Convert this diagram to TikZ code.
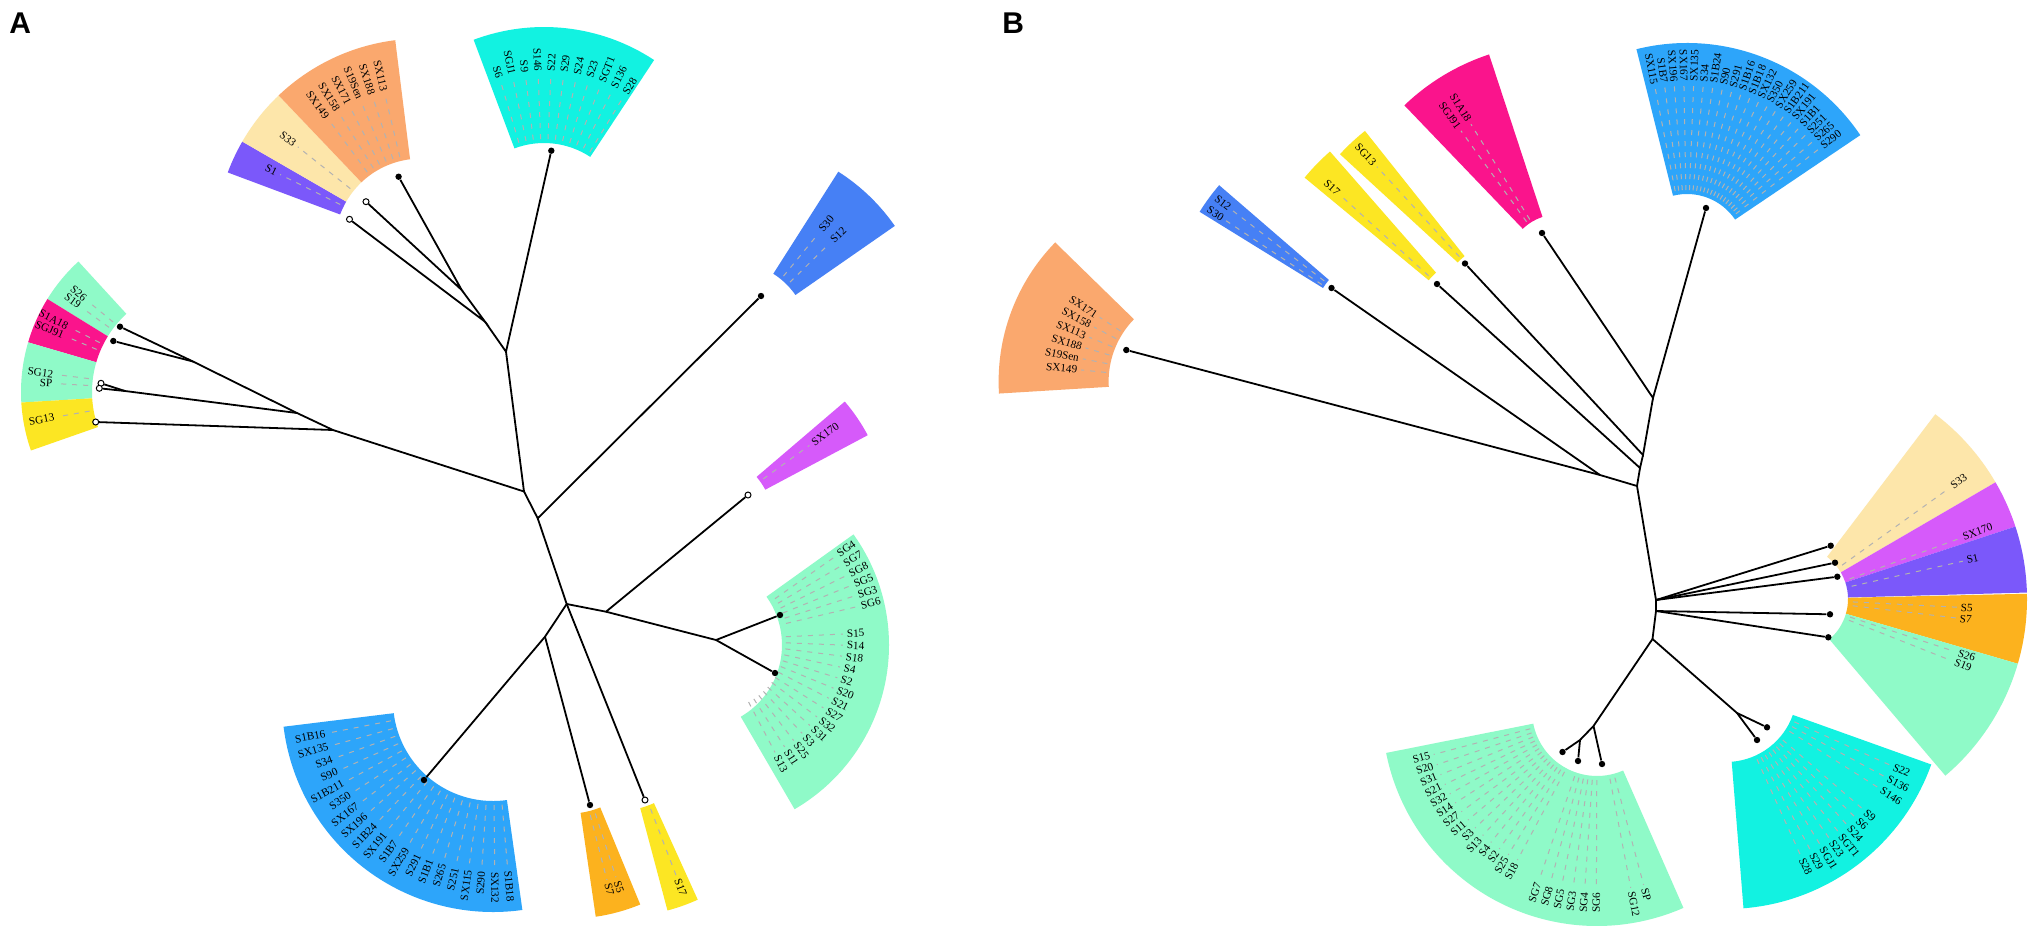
\documentclass[tikz,border=0pt]{standalone}
\usepackage{fontspec}
\setmainfont{Liberation Serif}
\newfontfamily\panelfont{Liberation Sans}
\usetikzlibrary{calc}
\definecolor{cyanW}{RGB}{18,242,225}
\definecolor{mintW}{RGB}{143,250,200}
\definecolor{orangeW}{RGB}{250,168,110}
\definecolor{creamW}{RGB}{253,230,170}
\definecolor{violetW}{RGB}{123,88,250}
\definecolor{magentaW}{RGB}{214,90,250}
\definecolor{blueW}{RGB}{70,128,245}
\definecolor{pinkW}{RGB}{250,20,140}
\definecolor{yellowW}{RGB}{252,230,35}
\definecolor{amberW}{RGB}{252,178,30}
\definecolor{skyW}{RGB}{45,165,250}
\tikzset{
  leaflab/.style={font=\fontsize{5.6}{6.5}\selectfont, inner sep=0.3pt},
  leafdash/.style={draw=black!30, line width=0.5pt, dash pattern=on 2.5pt off 3pt},
  branch/.style={draw=black, line width=0.9pt},
  leafdot/.style={circle, fill=black, inner sep=0pt, minimum size=3.2pt},
  opendot/.style={circle, draw=black, fill=white, line width=0.5pt, inner sep=0pt, minimum size=3pt},
  panel/.style={font=\panelfont\bfseries\fontsize{15}{15}\selectfont, inner sep=0pt, anchor=north west},
}
% cx, cy, rin, rout, a1, a2, colour
\newcommand{\cladefill}[7]{%
  \fill[#7] ($(#1,#2)+(#5:#3)$) arc[start angle=#5, end angle=#6, radius=#3]
    -- ($(#1,#2)+(#6:#4)$) arc[start angle=#6, end angle=#5, radius=#4] -- cycle;}
% cx, cy, r0, rlab, first angle, last angle, n, list
\newcommand{\cladelabels}[8]{%
  \begin{scope}[shift={(#1,#2)}]
  \foreach \lab [count=\i] in {#8}{%
    \ifnum#7=1 \pgfmathsetmacro\ang{#5}\else\pgfmathsetmacro\ang{#5+(\i-1)*(#6-(#5))/(#7-1)}\fi
    \pgfmathsetmacro\rr{#4-3}
    \draw[leafdash] (\ang:#3) -- (\ang:\rr);
    \pgfmathtruncatemacro\lft{cos(\ang)<0}
    \ifnum\lft=1
      \node[leaflab,anchor=east,rotate={180-(\ang)}] at (\ang:#4) {\lab};
    \else
      \node[leaflab,anchor=west,rotate={-1*(\ang)}] at (\ang:#4) {\lab};
    \fi
  }
  \end{scope}}
\begin{document}
\begin{tikzpicture}[x=0.5pt,y=-0.5pt]
\useasboundingbox (0,0) rectangle (2033,942);
\fill[white] (0,0) rectangle (2033,942);

% ================= Panel A wedges =================
\cladefill{420.7}{244.6}{86}{206}{-159.5}{-150}{violetW}
\cladefill{420.7}{244.6}{86}{206}{-150}{-133.6}{creamW}
\cladefill{420.7}{244.6}{86}{206}{-133.6}{-97.1}{orangeW}
\cladefill{544}{227}{84}{200}{-110.6}{-56.6}{cyanW}
\cladefill{731.4}{339.5}{78}{199}{-57.5}{-34.8}{blueW}
\cladefill{702.6}{523}{71}{187}{-40.5}{-28}{magentaW}
\cladefill{699}{645}{83}{190}{-35.6}{59.8}{mintW}
\cladefill{568.6}{730.7}{83}{188}{67.6}{81.7}{amberW}
\cladefill{617.6}{723}{88}{194}{65.6}{75.1}{yellowW}
\cladefill{493}{701}{100}{211}{82}{173}{skyW}
\cladefill{198}{392}{106}{177}{-148.3}{-132.5}{mintW}
\cladefill{198}{392}{106}{177}{-163.7}{-148.3}{pinkW}
\cladefill{198}{392}{106}{177}{-183.4}{-163.7}{mintW}
\cladefill{198}{392}{106}{177}{-199.3}{-183.4}{yellowW}

% ================= Panel B wedges =================
\cladefill{1197.6}{381.4}{89}{199}{-183.5}{-135.7}{orangeW}
\cladefill{1376.6}{321.1}{63}{208}{-148.3}{-139.2}{blueW}
\cladefill{1479.5}{322.3}{66}{227}{-140.4}{-131.2}{yellowW}
\cladefill{1501.9}{303.1}{60}{220}{-137.4}{-128.5}{yellowW}
\cladefill{1558.7}{266.3}{52}{223}{-133.8}{-108.2}{pinkW}
\cladefill{1687}{252}{58}{209}{-104}{-34}{skyW}
\cladefill{1795}{599}{53}{232}{-52.8}{-30.2}{creamW}
\cladefill{1795}{599}{53}{232}{-30.2}{-18.2}{magentaW}
\cladefill{1795}{599}{53}{232}{-18.2}{-1.6}{violetW}
\cladefill{1795}{599}{53}{232}{-1.3}{16.2}{amberW}
\cladefill{1795}{599}{53}{232}{16.2}{49.6}{mintW}
\cladefill{1726}{691}{71}{218}{19.7}{85.4}{cyanW}
\cladefill{1597}{711}{65}{215}{66.3}{168.75}{mintW}

% ================= Panel A labels =================
\cladelabels{420.7}{244.6}{90}{160}{-153.5}{-153.5}{1}{S1}
\cladelabels{420.7}{244.6}{90}{160}{-141.5}{-141.5}{1}{S33}
\cladelabels{420.7}{244.6}{90}{157}{-126.4}{-103.4}{6}{SX149,SX158,SX171,S19Sen,SX188,SX113}
\cladelabels{544}{227}{88}{155}{-106.6}{-58.6}{11}{S6,SGJ1,S9,S146,S22,S29,S24,S23,SGT1,S136,S28}
\cladelabels{731.4}{339.5}{82}{140}{-50.6}{-44.4}{2}{S30,S12}
\cladelabels{702.6}{523}{75}{135}{-36}{-36}{1}{SX170}
\cladelabels{716}{640}{72}{148}{-35}{-13.3}{6}{SG4,SG7,SG8,SG5,SG3,SG6}
\cladelabels{716}{640}{70}{130}{-2.7}{62.3}{14}{S15,S14,S18,S4,S2,S20,S21,S27,S32,S31,S3,S25,S11,S13}
\cladelabels{568.6}{730.7}{87}{157}{72.1}{75.6}{2}{S5,S7}
\cladelabels{617.6}{723}{92}{166}{69}{69}{1}{S17}
\cladelabels{493}{701}{104}{170}{169}{85}{20}{S1B16,SX135,S34,S90,S1B211,S350,SX167,SX196,S1B24,SX191,S1B7,SX259,S291,S1B1,S265,S251,SX115,S290,SX132,S1B18}
\cladelabels{198}{392}{110}{145}{-140.5}{-144}{2}{S26,S19}
\cladelabels{198}{392}{110}{145}{-153.3}{-157.2}{2}{S1A18,SGJ91}
\cladelabels{198}{392}{110}{145}{-173}{-176.6}{2}{SG12,SP}
\cladelabels{198}{392}{110}{145}{-190}{-190}{1}{SG13}

% ================= Panel B labels =================
\cladelabels{1197.6}{381.4}{92}{120}{-146.8}{-174.4}{6}{SX171,SX158,SX113,SX188,S19Sen,SX149}
\cladelabels{1376.6}{321.1}{66}{184}{-142.5}{-146.3}{2}{S12,S30}
\cladelabels{1479.5}{322.3}{69}{190}{-137.6}{-137.6}{1}{S17}
\cladelabels{1501.9}{303.1}{63}{188}{-132.5}{-132.5}{1}{SG13}
\cladelabels{1558.7}{266.3}{55}{170}{-121.7}{-125.8}{2}{S1A18,SGJ91}
\cladelabels{1687}{252}{62}{170}{-101}{-38}{20}{SX115,S1B7,SX196,SX167,SX135,S34,S1B24,S90,S291,S1B16,S1B18,SX132,S350,SX259,S1B211,SX191,S1B1,S251,S265,S290}
\cladelabels{1795}{599}{58}{192}{-35.7}{-35.7}{1}{S33}
\cladelabels{1795}{599}{58}{178}{-20.2}{-20.2}{1}{SX170}
\cladelabels{1795}{599}{58}{175}{-12.7}{-12.7}{1}{S1}
\cladelabels{1795}{599}{58}{165}{2.9}{6.7}{2}{S5,S7}
\cladelabels{1795}{599}{58}{171}{18.2}{21.5}{2}{S26,S19}
\cladelabels{1726}{691}{75}{183}{24.3}{32.4}{3}{S22,S136,S146}
\cladelabels{1726}{691}{75}{183}{40.8}{65.6}{8}{S9,S6,S24,SGT1,S23,SGJ1,S29,S28}
\cladelabels{1597}{711}{69}{172}{165.1}{118.1}{14}{S15,S20,S31,S21,S32,S14,S27,S11,S3,S13,S4,S2,S25,S18}
\cladelabels{1597}{711}{69}{181}{108.9}{90.2}{6}{SG7,SG8,SG5,SG3,SG4,SG6}
\cladelabels{1597}{711}{69}{183}{79.2}{75}{2}{SG12,SP}

% ================= Panel A tree =================
\coordinate (aJa) at (461.7,290);
\coordinate (aJb) at (485,321.7);
\coordinate (aNt) at (506,351.7);
\coordinate (aNm) at (524,491.5);
\coordinate (aNs) at (537.7,518.3);
\coordinate (aNb) at (566.7,604);
\coordinate (aNr) at (606,611.7);
\coordinate (aNg) at (716,640);
\coordinate (aNl) at (545,636.7);
\coordinate (aL1) at (333,430);
\coordinate (aL2) at (297,413);
\coordinate (aL3) at (193,361.5);
\coordinate (aLsp) at (125,391);
\node[leafdot] (aOr) at (398.6,176.7) {};
\node[opendot] (aS33) at (366,201.7) {};
\node[opendot] (aS1) at (349.5,219.3) {};
\node[leafdot] (aCy) at (551.3,150.7) {};
\node[leafdot] (aS30) at (761,296) {};
\node[opendot] (aSX) at (748,495) {};
\node[leafdot] (aSG) at (780,615) {};
\node[leafdot] (aSS) at (775,673) {};
\node[leafdot] (aS57) at (590,805) {};
\node[opendot] (aS17) at (645,800) {};
\node[leafdot] (aBl) at (424,780) {};
\node[leafdot] (aS26) at (120,326.7) {};
\node[leafdot] (aS1A) at (113.3,341) {};
\node[opendot] (aSG12) at (101,383.3) {};
\node[opendot] (aSP) at (99.3,388.3) {};
\node[opendot] (aSG13) at (95.7,422) {};
\draw[branch] (aOr) -- (aJa) -- (aS33);
\draw[branch] (aJa) -- (aJb) -- (aS1);
\draw[branch] (aJb) -- (aNt) -- (aCy);
\draw[branch] (aNt) -- (aNm) -- (aL1) -- (aSG13);
\draw[branch] (aL1) -- (aL2) -- (aLsp) -- (aSG12);
\draw[branch] (aLsp) -- (aSP);
\draw[branch] (aL2) -- (aL3) -- (aS26);
\draw[branch] (aL3) -- (aS1A);
\draw[branch] (aNm) -- (aNs) -- (aS30);
\draw[branch] (aNs) -- (aNb) -- (aNr) -- (aSX);
\draw[branch] (aNr) -- (aNg) -- (aSG);
\draw[branch] (aNg) -- (aSS);
\draw[branch] (aNb) -- (aNl) -- (aBl);
\draw[branch] (aNl) -- (aS57);
\draw[branch] (aNb) -- (aS17);

% ================= Panel B tree =================
\coordinate (bN1) at (1653,398);
\coordinate (bN2) at (1643,455);
\coordinate (bN3) at (1640,468);
\coordinate (bN4) at (1637,486);
\coordinate (bN5) at (1600,475);
\coordinate (bHub) at (1656,600);
\coordinate (bHub2) at (1656,611);
\coordinate (bD) at (1652.5,639);
\coordinate (bG) at (1593.5,726);
\coordinate (bG2) at (1580,740);
\coordinate (bC) at (1737,713);
\node[leafdot] (bPk) at (1542,233) {};
\node[leafdot] (bBl) at (1706,208) {};
\node[leafdot] (bSG13) at (1465,263.5) {};
\node[leafdot] (bS17) at (1437,284) {};
\node[leafdot] (bS12) at (1331.5,288) {};
\node[leafdot] (bOr) at (1126.3,350) {};
\node[leafdot] (bS33) at (1830.7,545.7) {};
\node[leafdot] (bSX) at (1835,562.7) {};
\node[leafdot] (bS1) at (1837.3,576.7) {};
\node[leafdot] (bS5) at (1830,614.3) {};
\node[leafdot] (bS26) at (1828.3,637.3) {};
\node[leafdot] (bCy1) at (1767,727.3) {};
\node[leafdot] (bCy2) at (1757,740) {};
\node[leafdot] (bGr1) at (1562.5,752) {};
\node[leafdot] (bGr2) at (1578,761) {};
\node[leafdot] (bGr3) at (1602,764) {};
\draw[branch] (bPk) -- (bN1) -- (bBl);
\draw[branch] (bN1) -- (bN2) -- (bSG13);
\draw[branch] (bN2) -- (bN3) -- (bS17);
\draw[branch] (bN3) -- (bN4) -- (bN5) -- (bS12);
\draw[branch] (bN5) -- (bOr);
\draw[branch] (bN4) -- (bHub) -- (bS33);
\draw[branch] (bHub) -- (bSX);
\draw[branch] (bHub) -- (bS1);
\draw[branch] (bHub) -- (bHub2) -- (bS5);
\draw[branch] (bHub2) -- (bS26);
\draw[branch] (bHub2) -- (bD) -- (bC) -- (bCy1);
\draw[branch] (bC) -- (bCy2);
\draw[branch] (bD) -- (bG) -- (bG2) -- (bGr1);
\draw[branch] (bG2) -- (bGr2);
\draw[branch] (bG) -- (bGr3);

% ================= Panel letters =================
\node[panel] (pA) at (9,12) {A};
\node[panel] (pB) at (1002,12) {B};
\end{tikzpicture}
\end{document}
